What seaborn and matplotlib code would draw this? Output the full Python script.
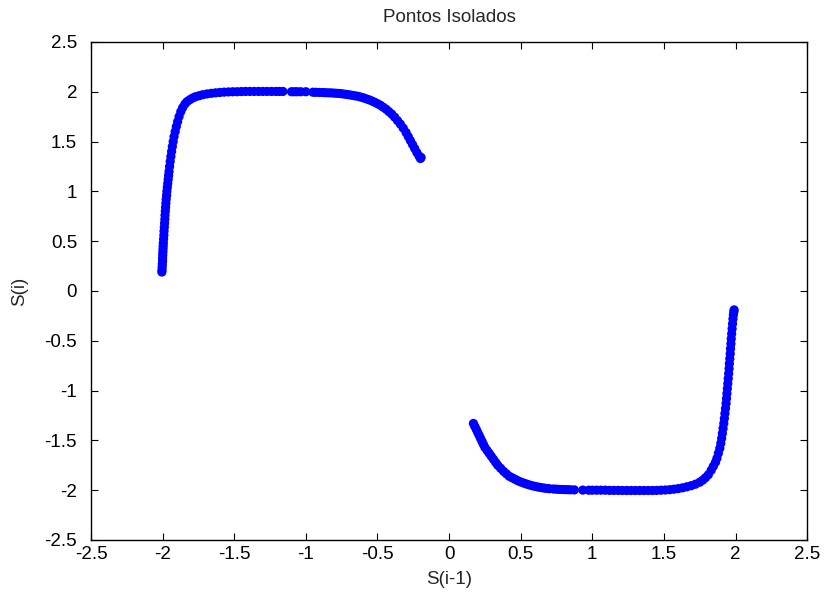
import matplotlib
matplotlib.use("Agg")
import matplotlib.pyplot as plt
import seaborn as sns
import pandas as pd

# Upper-left branch
upper_x = [-2.005, -2.004, -2.003, -2.002, -2.0, -2.0, -1.999, -1.998, -1.997, -1.996, -1.995,
           -1.993, -1.991, -1.99, -1.988, -1.986, -1.984, -1.983, -1.981, -1.979, -1.977, -1.975,
           -1.972, -1.97, -1.967, -1.964, -1.961, -1.958, -1.955, -1.951, -1.947, -1.942, -1.937,
           -1.932, -1.926, -1.92, -1.912, -1.904, -1.895, -1.885, -1.873, -1.86, -1.845, -1.83,
           -1.81, -1.79, -1.77, -1.745, -1.72, -1.69, -1.66, -1.63, -1.6, -1.57, -1.54, -1.51,
           -1.48, -1.45, -1.42, -1.39, -1.36, -1.33, -1.30, -1.27, -1.24, -1.21, -1.185, -1.16,
           -1.10, -1.08, -1.06, -1.035, -1.0, -0.95, -0.93, -0.905,
           -0.88, -0.86, -0.84, -0.82, -0.80, -0.78, -0.76, -0.74, -0.72, -0.70, -0.68, -0.66,
           -0.64, -0.62, -0.60, -0.58, -0.56, -0.54, -0.52, -0.50, -0.48, -0.46, -0.44, -0.42,
           -0.40, -0.38, -0.36, -0.34, -0.32, -0.30, -0.285, -0.27, -0.255, -0.24, -0.225,
           -0.21, -0.20, -0.195]
upper_y = [0.19, 0.21, 0.24, 0.27, 0.30, 0.33, 0.36, 0.39, 0.42, 0.45, 0.48,
           0.52, 0.56, 0.60, 0.64, 0.68, 0.72, 0.76, 0.80, 0.84, 0.88, 0.92,
           0.96, 1.00, 1.04, 1.08, 1.12, 1.16, 1.20, 1.25, 1.30, 1.35, 1.40,
           1.45, 1.50, 1.55, 1.60, 1.65, 1.70, 1.75, 1.80, 1.84, 1.875, 1.90,
           1.92, 1.937, 1.95, 1.96, 1.97, 1.978, 1.984, 1.989, 1.993, 1.996, 1.998, 2.0,
           2.0, 2.002, 2.003, 2.003, 2.003, 2.003, 2.003, 2.003, 2.003, 2.003, 2.003, 2.003,
           2.0, 2.0, 2.0, 2.0, 2.0, 1.995, 1.994, 1.993,
           1.992, 1.99, 1.989, 1.988, 1.986, 1.984, 1.982, 1.978, 1.974, 1.97, 1.965, 1.96,
           1.955, 1.948, 1.94, 1.93, 1.92, 1.908, 1.895, 1.88, 1.865, 1.845, 1.825, 1.80,
           1.775, 1.745, 1.71, 1.675, 1.635, 1.59, 1.55, 1.51, 1.47, 1.43, 1.39,
           1.355, 1.33, 1.34]

# Lower-right branch
lower_x = [0.17, 0.18, 0.19, 0.20, 0.21, 0.22, 0.23, 0.24, 0.25, 0.265, 0.28, 0.295, 0.31,
           0.325, 0.34, 0.36, 0.38, 0.40, 0.42, 0.44, 0.46, 0.48, 0.50, 0.52, 0.54, 0.56,
           0.58, 0.60, 0.62, 0.64, 0.66, 0.68, 0.70,
           0.73, 0.75, 0.77, 0.79, 0.81, 0.83, 0.85, 0.875, 0.934,
           0.975, 1.0, 1.03, 1.06, 1.09, 1.12, 1.15, 1.18, 1.21, 1.24, 1.27, 1.30, 1.33,
           1.36, 1.39, 1.42, 1.45, 1.48, 1.51, 1.54, 1.57, 1.60, 1.63, 1.66, 1.69, 1.72,
           1.75, 1.77, 1.79, 1.81, 1.83, 1.845, 1.86, 1.87, 1.88, 1.89, 1.897, 1.903,
           1.908, 1.913, 1.918, 1.922, 1.926, 1.93, 1.934, 1.937, 1.94, 1.943, 1.946,
           1.949, 1.952, 1.955, 1.957, 1.96, 1.963, 1.965, 1.968, 1.97, 1.973, 1.976,
           1.979, 1.982, 1.985, 1.988, 1.99]
lower_y = [-1.33, -1.36, -1.39, -1.42, -1.45, -1.48, -1.51, -1.54, -1.57, -1.60, -1.63, -1.66, -1.69,
           -1.72, -1.75, -1.78, -1.81, -1.835, -1.86, -1.875, -1.89, -1.905, -1.917, -1.928, -1.938, -1.947,
           -1.955, -1.962, -1.968, -1.973, -1.978, -1.982, -1.985,
           -1.988, -1.99, -1.992, -1.993, -1.994, -1.995, -1.996, -1.997, -1.999,
           -2.0, -2.0, -2.0, -2.0, -2.0, -2.002, -2.002, -2.002, -2.003, -2.003, -2.003, -2.003, -2.003,
           -2.003, -2.003, -2.003, -2.002, -2.0, -1.998, -1.995, -1.99, -1.984, -1.976, -1.966, -1.955, -1.94,
           -1.92, -1.90, -1.875, -1.845, -1.80, -1.76, -1.72, -1.68, -1.63, -1.58, -1.53, -1.48,
           -1.43, -1.38, -1.33, -1.28, -1.23, -1.18, -1.13, -1.08, -1.03, -0.98, -0.93,
           -0.88, -0.83, -0.78, -0.73, -0.68, -0.63, -0.58, -0.53, -0.48, -0.43, -0.38,
           -0.33, -0.28, -0.24, -0.21, -0.19]

x_ticks = [-2.5, -2, -1.5, -1, -0.5, 0, 0.5, 1, 1.5, 2, 2.5]
y_ticks = [-2.5, -2, -1.5, -1, -0.5, 0, 0.5, 1, 1.5, 2, 2.5]
tick_labels = ["-2.5", "-2", "-1.5", "-1", "-0.5", "0", "0.5", "1", "1.5", "2", "2.5"]

df = pd.DataFrame({"x": upper_x + lower_x, "y": upper_y + lower_y})

sns.set_style("white")
plt.rcParams["font.family"] = ["Liberation Sans", "DejaVu Sans"]

fig = plt.figure(figsize=(8.27, 5.99), dpi=100)
ax = fig.add_axes([0.110, 0.0985, 0.866, 0.8315])
sns.scatterplot(data=df, x="x", y="y", ax=ax, color="#0000ff", s=44,
                linewidth=0, edgecolor="none", legend=False, zorder=3)

ax.set_xlim(-2.5, 2.5)
ax.set_ylim(-2.5, 2.5)
ax.set_xticks(x_ticks)
ax.set_xticklabels(tick_labels)
ax.set_yticks(y_ticks)
ax.set_yticklabels(tick_labels)
ax.tick_params(direction="in", length=5, width=0.8, labelsize=13.5, top=True, right=True,
               bottom=True, left=True, colors="black")
ax.tick_params(axis="y", pad=10)
ax.tick_params(axis="x", pad=4)
for sp in ax.spines.values():
    sp.set_visible(True)
    sp.set_color("black")
    sp.set_linewidth(1.0)
ax.set_xlabel("S(i-1)", fontsize=13.5, labelpad=6)
ax.set_ylabel("S(i)", fontsize=13.5, labelpad=12)
ax.set_title("Pontos Isolados", fontsize=13.5, pad=14)

fig.savefig("out.png", dpi=100)
